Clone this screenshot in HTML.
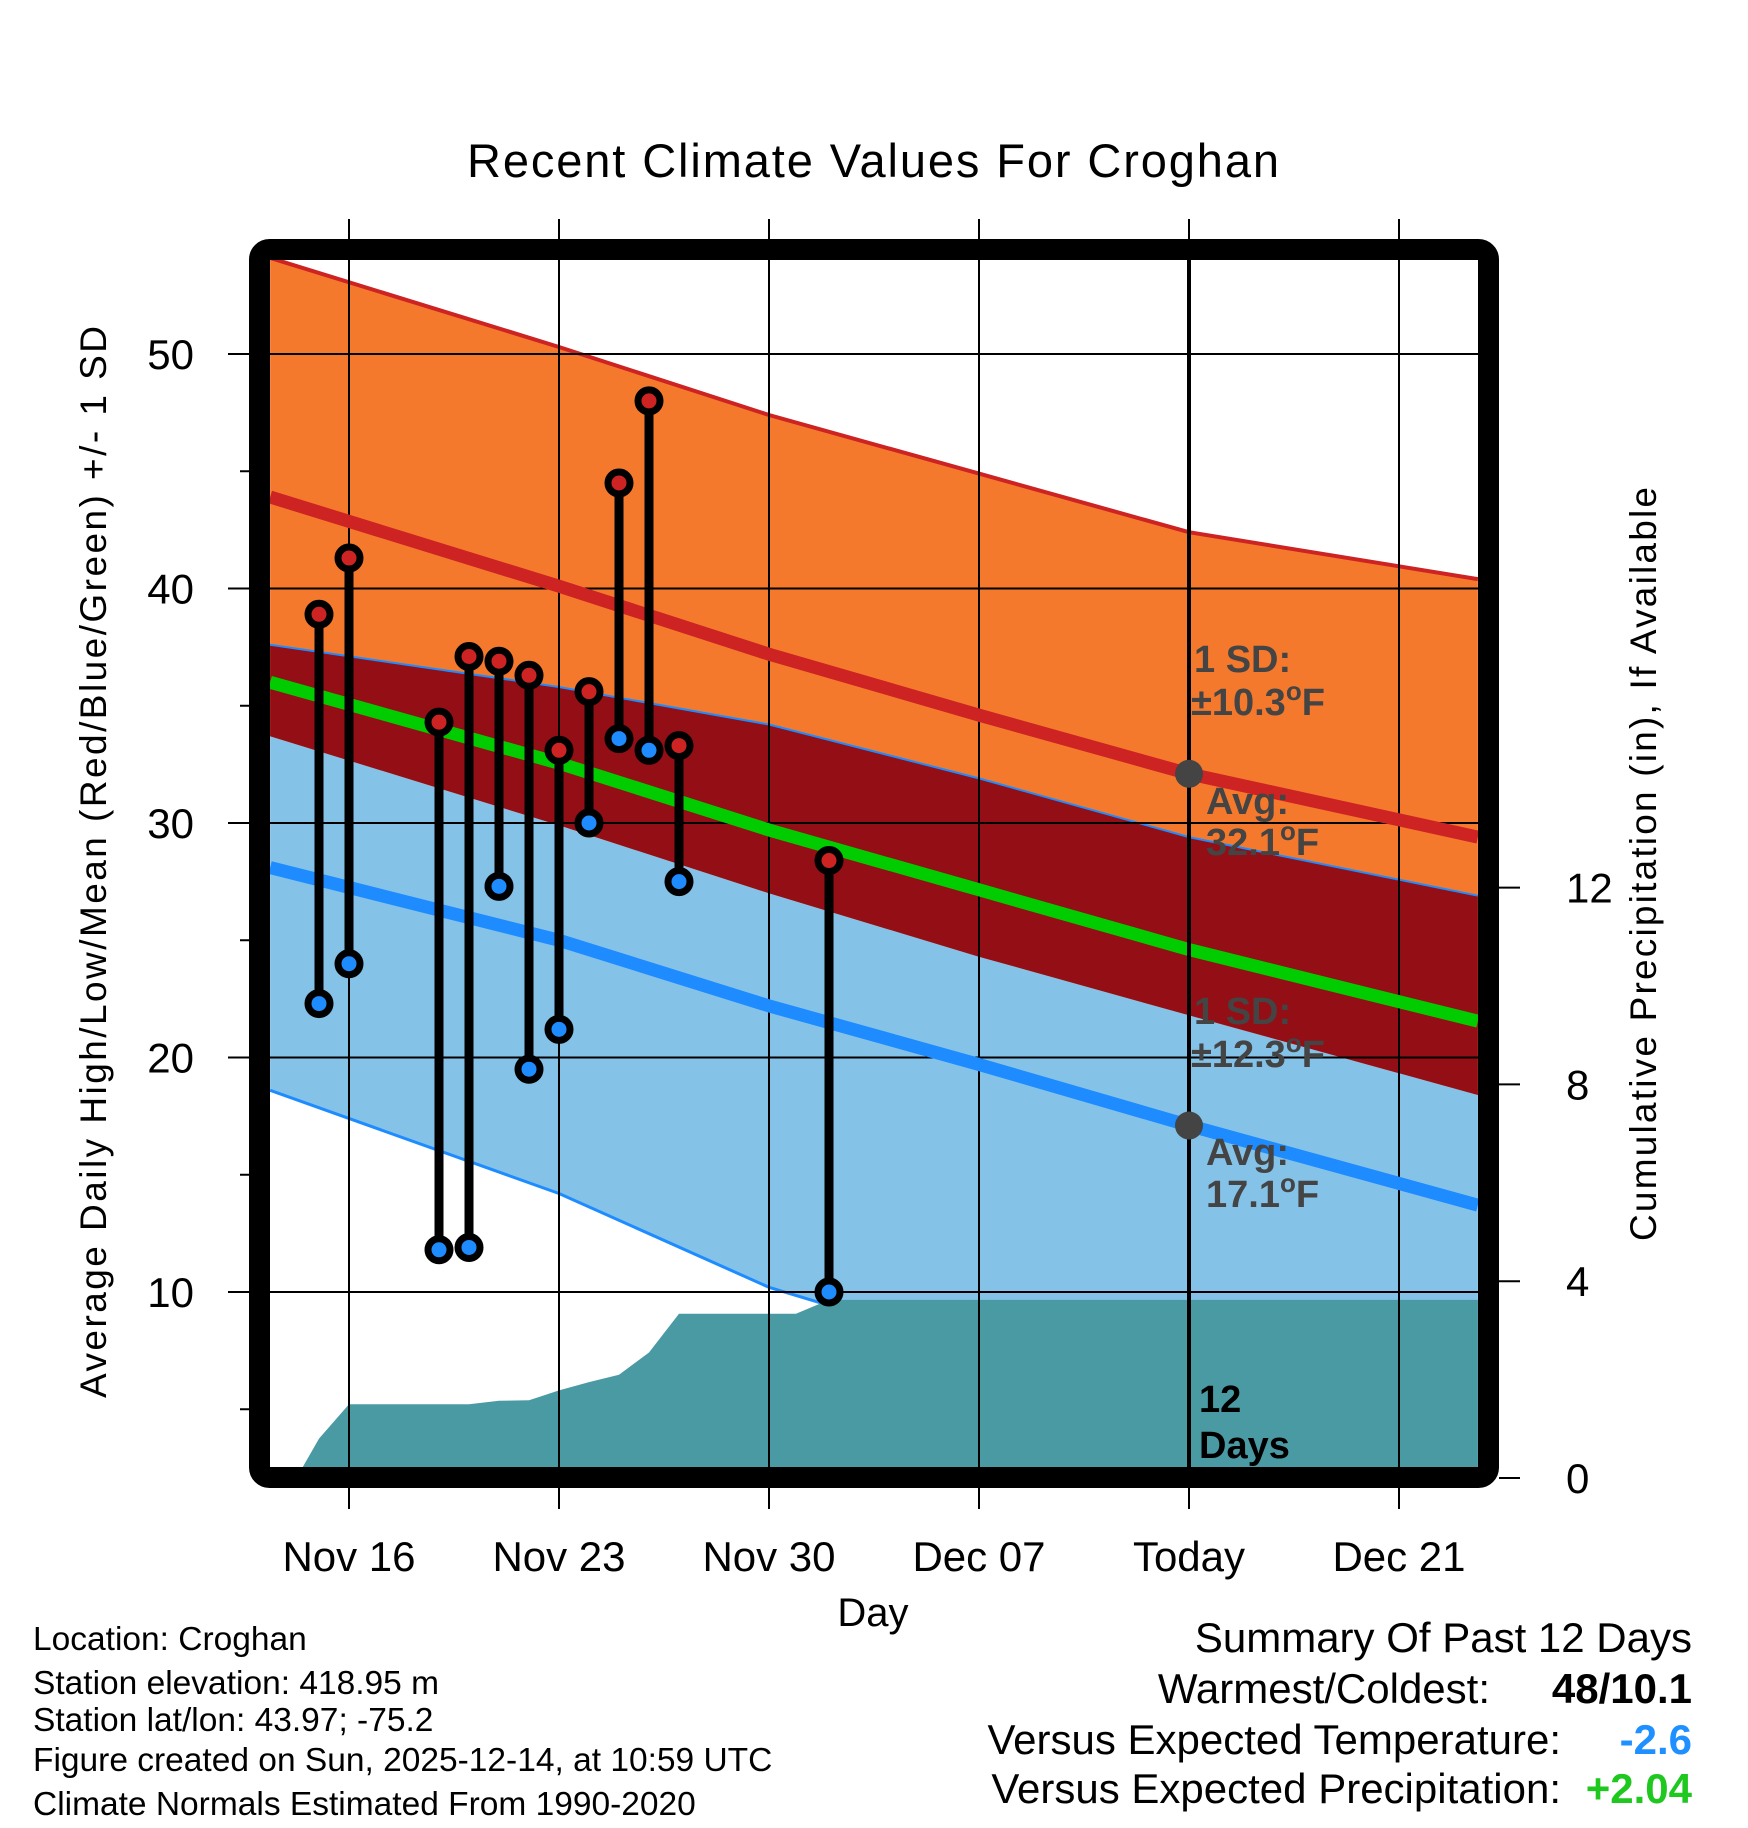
<!DOCTYPE html>
<html><head><meta charset="utf-8"><style>
body{margin:0;background:#fff}
svg{display:block;font-family:"Liberation Sans",sans-serif}
</style></head><body>
<svg id="chart" width="1748" height="1828" viewBox="0 0 1748 1828" xmlns="http://www.w3.org/2000/svg">
<defs><clipPath id="plotclip"><rect x="270" y="260" width="1208" height="1208"/></clipPath></defs>
<text x="873" y="177" font-size="47" text-anchor="middle" textLength="812">Recent Climate Values For Croghan</text>
<g id="bands" clip-path="url(#plotclip)"></g>
<g id="axes"></g>
<g id="marks"></g>
<text transform="translate(106,862) rotate(-90)" font-size="37" text-anchor="middle" textLength="1072">Average Daily High/Low/Mean (Red/Blue/Green) +/- 1 SD</text>
<text transform="translate(1656,864) rotate(-90)" font-size="37" text-anchor="middle" textLength="754">Cumulative Precipitation (in), If Available</text>
<text x="873" y="1626" font-size="40" text-anchor="middle">Day</text>
<g font-size="33.5">
<text x="33" y="1650">Location: Croghan</text>
<text x="33" y="1694">Station elevation: 418.95 m</text>
<text x="33" y="1731">Station lat/lon: 43.97; -75.2</text>
<text x="33" y="1771">Figure created on Sun, 2025-12-14, at 10:59 UTC</text>
<text x="33" y="1815">Climate Normals Estimated From 1990-2020</text>
</g>
<g font-size="42" text-anchor="end">
<text x="1692" y="1652">Summary Of Past 12 Days</text>
<text x="1490" y="1703">Warmest/Coldest:</text>
<text x="1692" y="1703" font-weight="bold">48/10.1</text>
<text x="1561" y="1754">Versus Expected Temperature:</text>
<text x="1692" y="1754" font-weight="bold" fill="#1e90ff">-2.6</text>
<text x="1561" y="1803">Versus Expected Precipitation:</text>
<text x="1692" y="1803" font-weight="bold" fill="#1ec81e">+2.04</text>
</g>
</svg>
<script>
// ---- data ----
const normDays = [-2.63, 7, 14, 21, 28, 37.63];
const avgHigh = [43.9, 40.1, 37.2, 34.6, 32.1, 29.4];
const sdHigh = [10.2, 10.2, 10.2, 10.3, 10.3, 11.0];
const avgLow = [28.1, 25.0, 22.2, 19.7, 17.1, 13.7];
const sdLow = [9.5, 10.8, 12.0, 12.2, 12.3, 13.2];
const precipDays = [-1.75, -1, 0, 1, 2, 3, 4, 5, 6, 7, 8, 9, 10, 11, 12, 13, 14, 14.9, 16, 37.63];
const precipVals = [0, 0.8, 1.5, 1.5, 1.5, 1.5, 1.5, 1.57, 1.58, 1.78, 1.95, 2.1, 2.55, 3.34, 3.34, 3.34, 3.34, 3.34, 3.62, 3.62];
const obsDays = [-1, 0, 3, 4, 5, 6, 7, 8, 9, 10, 11, 16];
const obsHigh = [38.9, 41.3, 34.3, 37.1, 36.9, 36.3, 33.1, 35.6, 44.5, 48.0, 33.3, 28.4];
const obsLow = [22.3, 24.0, 11.8, 11.9, 27.3, 19.5, 21.2, 30.0, 33.6, 33.1, 27.5, 10.0];
const xTickDays = [0, 7, 14, 21, 28, 35];
const xTickLabels = ["Nov 16", "Nov 23", "Nov 30", "Dec 07", "Today", "Dec 21"];
const yTicks = [10, 20, 30, 40, 50];
const yMinor = [5, 15, 25, 35, 45];
const y2Ticks = [0, 4, 8, 12];
const todayDay = 28;

// ---- scales ----
const X = d => 349 + d * 30;
const Y = t => 354 + (50 - t) * 23.45;
const P = p => 1478 - p * 49.2;
const NS = "http://www.w3.org/2000/svg";
function mk(tag, attrs, parent) {
  const e = document.createElementNS(NS, tag);
  for (const k in attrs) e.setAttribute(k, attrs[k]);
  parent.appendChild(e);
  return e;
}
const bands = document.getElementById('bands');
const axes = document.getElementById('axes');
const marks = document.getElementById('marks');
const pts = (days, vals) => days.map((d, i) => X(d).toFixed(1) + ',' + Y(vals[i]).toFixed(1));
function bandPts(top, bot) {
  const a = pts(normDays, top);
  const b = pts(normDays, bot).reverse();
  return a.concat(b).join(' ');
}
const hiTop = avgHigh.map((v, i) => v + sdHigh[i]);
const hiBot = avgHigh.map((v, i) => v - sdHigh[i]);
const loTop = avgLow.map((v, i) => v + sdLow[i]);
const loBot = avgLow.map((v, i) => v - sdLow[i]);
const ovTop = hiTop.map((v, i) => Math.min(v, loTop[i]));
const ovBot = hiBot.map((v, i) => Math.max(v, loBot[i]));
const mean = avgHigh.map((v, i) => (v + avgLow[i]) / 2);

let e;
e = mk('polygon', {points: bandPts(loTop, loBot), fill: '#85c2e8'}, bands);


e = mk('polygon', {points: bandPts(hiTop, hiBot), fill: '#f5792d'}, bands);


e = mk('polygon', {points: bandPts(ovTop, ovBot), fill: '#930e15'}, bands);


e = mk('polyline', {points: pts(normDays, hiTop).join(' '), fill: 'none', stroke: '#cd2323', 'stroke-width': 4}, bands);


e = mk('polyline', {points: pts(normDays, loTop).join(' '), fill: 'none', stroke: '#1e8cff', 'stroke-width': 2}, bands);


e = mk('polyline', {points: pts(normDays, loBot).join(' '), fill: 'none', stroke: '#1e8cff', 'stroke-width': 3}, bands);


// precip area
const pp = precipDays.map((d, i) => X(d).toFixed(1) + ',' + P(precipVals[i]).toFixed(1));
pp.push(X(precipDays[precipDays.length - 1]) + ',' + P(0), X(precipDays[0]) + ',' + P(0));
e = mk('polygon', {points: pp.join(' ') + ' 1478,1468 270,1468', fill: '#4a9aa4'}, bands);


// gridlines
xTickDays.forEach(d => {
  const g = mk('line', {x1: X(d), x2: X(d), y1: 219, y2: 1509, stroke: '#000', 'stroke-width': 2}, axes);
  
  
});
yTicks.forEach(t => {
  const g = mk('line', {x1: 228, x2: 1478, y1: Y(t), y2: Y(t), stroke: '#000', 'stroke-width': 2}, axes);
  
  
  const l = mk('text', {x: 194, y: Y(t) + 15, 'font-size': 42, 'text-anchor': 'end'}, axes);
  l.textContent = t;
  
  
});
yMinor.forEach(t => {
  const g = mk('line', {x1: 240, x2: 250, y1: Y(t), y2: Y(t), stroke: '#000', 'stroke-width': 2}, axes);
  
  
});
y2Ticks.forEach(p => {
  const g = mk('line', {x1: 1499, x2: 1520, y1: P(p), y2: P(p), stroke: '#000', 'stroke-width': 2}, axes);
  
  
  const l = mk('text', {x: 1566, y: P(p) + 15, 'font-size': 42}, axes);
  l.textContent = p;
  
  
});
xTickDays.forEach((d, i) => {
  const l = mk('text', {x: X(d), y: 1571, 'font-size': 42, 'text-anchor': 'middle'}, axes);
  l.textContent = xTickLabels[i];
  
  
});
// avg lines
const clipG = mk('g', {'clip-path': 'url(#plotclip)'}, axes);
e = mk('polyline', {points: pts(normDays, avgHigh).join(' '), fill: 'none', stroke: '#cd2323', 'stroke-width': 13}, clipG);


e = mk('polyline', {points: pts(normDays, avgLow).join(' '), fill: 'none', stroke: '#1e8cff', 'stroke-width': 13}, clipG);


e = mk('polyline', {points: pts(normDays, mean).join(' '), fill: 'none', stroke: '#00cc00', 'stroke-width': 13}, clipG);


// today line
e = mk('line', {x1: X(todayDay), x2: X(todayDay), y1: 260, y2: 1468, stroke: '#000', 'stroke-width': 4}, axes);


// frame
e = mk('rect', {x: 259.5, y: 249.5, width: 1229, height: 1228, rx: 10, fill: 'none', stroke: '#000', 'stroke-width': 21}, axes);


// today dots
function interp(arr, d) {
  for (let i = 0; i < normDays.length - 1; i++) {
    if (d >= normDays[i] && d <= normDays[i + 1]) {
      const f = (d - normDays[i]) / (normDays[i + 1] - normDays[i]);
      return arr[i] + f * (arr[i + 1] - arr[i]);
    }
  }
  return arr[arr.length - 1];
}
const th = interp(avgHigh, todayDay), tl = interp(avgLow, todayDay);
e = mk('circle', {cx: X(todayDay), cy: Y(th), r: 14, fill: '#444'}, marks);


e = mk('circle', {cx: X(todayDay), cy: Y(tl), r: 14, fill: '#444'}, marks);


// annotations
function ann(x, y, txt, fill, name, sup) {
  const t = mk('text', {x: x, y: y, 'font-size': 38, 'font-weight': 'bold', fill: fill}, marks);
  if (sup) {
    t.appendChild(document.createTextNode(txt));
    const s = mk('tspan', {dy: -15, 'font-size': 26}, t);
    s.textContent = 'o';
    const f = mk('tspan', {dy: 15}, t);
    f.textContent = 'F';
  } else t.textContent = txt;
  
  
}
ann(1194, 672, '1 SD:', '#444', 'high-sd-label');
ann(1191, 715, '±10.3', '#444', 'high-sd-value', true);
ann(1206, 814, 'Avg:', '#444', 'high-avg-label');
ann(1206, 855, '32.1', '#444', 'high-avg-value', true);
ann(1194, 1024, '1 SD:', '#444', 'low-sd-label');
ann(1191, 1067, '±12.3', '#444', 'low-sd-value', true);
ann(1206, 1165, 'Avg:', '#444', 'low-avg-label');
ann(1206, 1207, '17.1', '#444', 'low-avg-value', true);
ann(1199, 1412, '12', '#000', 'days-count');
ann(1199, 1458, 'Days', '#000', 'days-label');
// observations
obsDays.forEach((d, i) => {
  const s = mk('line', {x1: X(d), x2: X(d), y1: Y(obsHigh[i]), y2: Y(obsLow[i]), stroke: '#000', 'stroke-width': 9}, marks);
  
  
  const h = mk('circle', {cx: X(d), cy: Y(obsHigh[i]), r: 11, fill: '#cd2323', stroke: '#000', 'stroke-width': 7}, marks);
  
  
  const l = mk('circle', {cx: X(d), cy: Y(obsLow[i]), r: 11, fill: '#1e8cff', stroke: '#000', 'stroke-width': 7}, marks);
  
  
});
</script>
</body></html>
